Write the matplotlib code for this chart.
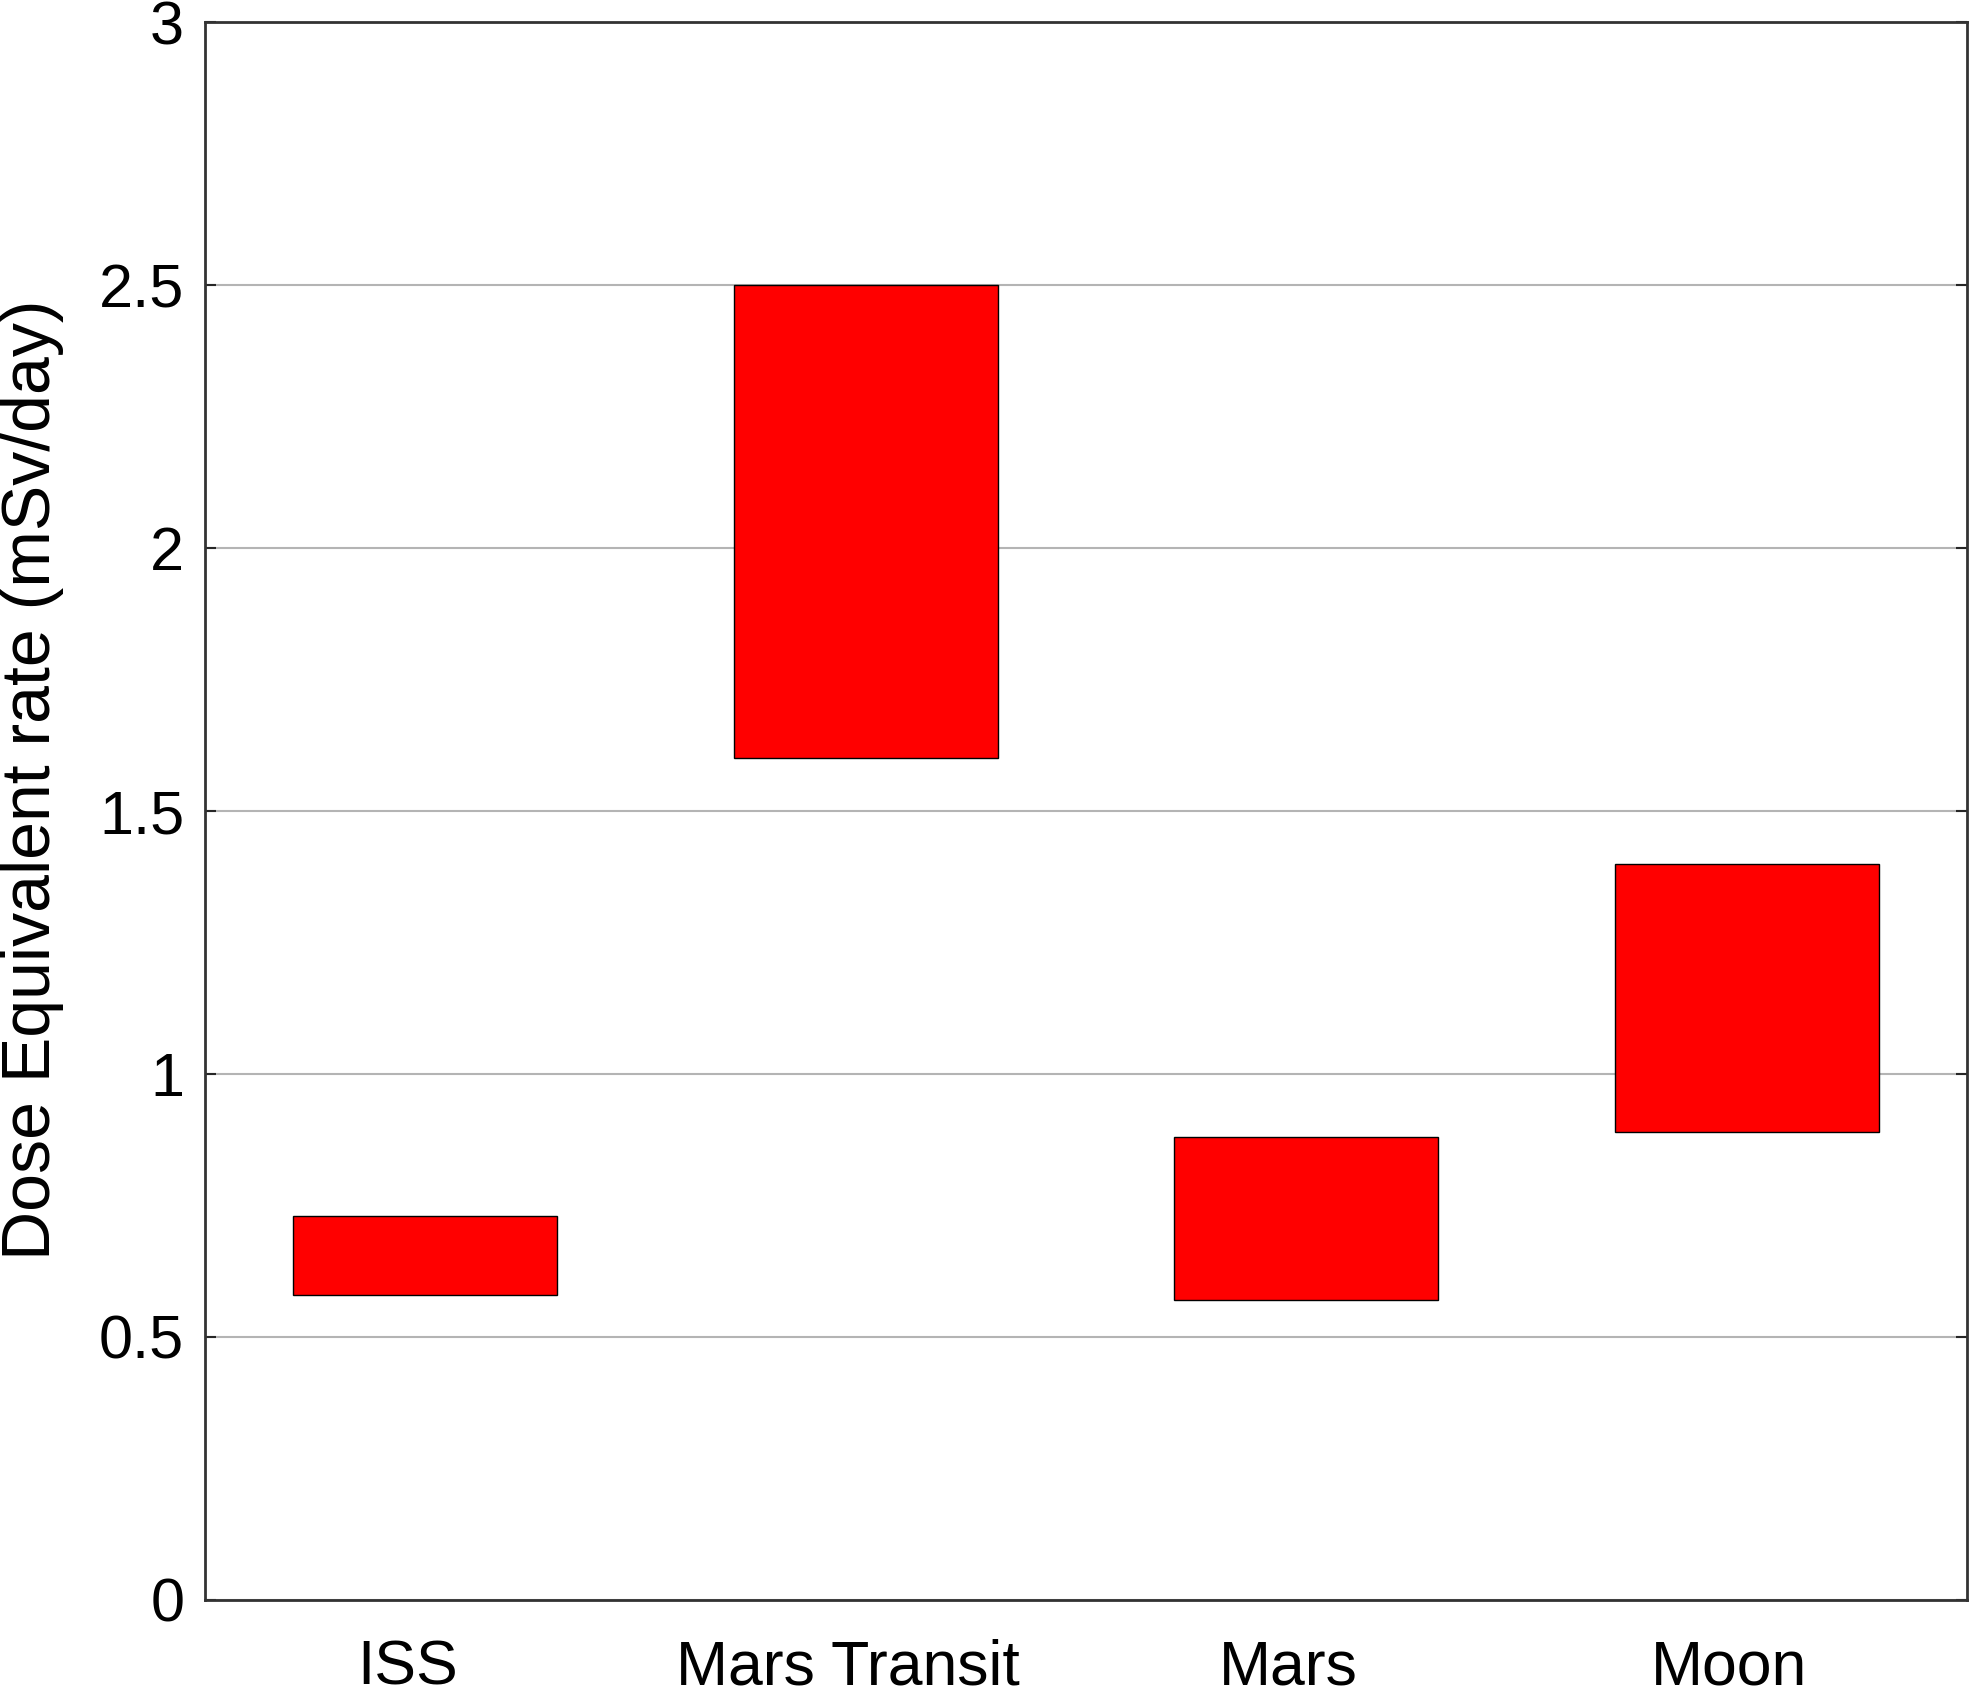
import numpy as np
import matplotlib
matplotlib.use("Agg")
import matplotlib.pyplot as plt
import matplotlib.transforms as mtransforms

plt.rcParams['font.family'] = ['Liberation Sans', 'DejaVu Sans']

sites = ["ISS", "Mars Transit", "Mars", "Moon"]
low = [0.58, 1.60, 0.57, 0.89]
high = [0.73, 2.50, 0.88, 1.40]
yticks = [0, 0.5, 1, 1.5, 2, 2.5, 3]
ytick_labels = ["0", "0.5", "1", "1.5", "2", "2.5", "3"]

x = np.arange(1, len(sites) + 1)
low = np.array(low)
high = np.array(high)

fig = plt.figure(figsize=(19.69, 17.01), dpi=100)
ax = fig.add_axes([0.1041, 0.0594, 0.8949, 0.9276])

ax.bar(x, high - low, bottom=low, width=0.6, color="#ff0000",
       edgecolor="black", linewidth=1.0, zorder=3)

ax.set_xlim(0.5, 4.5)
ax.set_ylim(0, 3)
ax.set_yticks(yticks)
ax.set_yticklabels(ytick_labels)
ax.set_xticks(x)
ax.set_xticklabels(sites)

ax.yaxis.grid(True, color="#b4b4b4", linewidth=1.5, zorder=0)
ax.set_axisbelow(True)

ax.tick_params(axis="y", direction="in", length=8, width=1.5, pad=15,
               labelsize=44, right=True, color="#262626")
ax.tick_params(axis="x", length=0, pad=28, labelsize=45)

# x labels sit a little left of the bar centres in the original
shift = mtransforms.ScaledTranslation(-0.18, 0, fig.dpi_scale_trans)
for lab in ax.get_xticklabels():
    lab.set_transform(lab.get_transform() + shift)

for s in ax.spines.values():
    s.set_linewidth(2.0)
    s.set_color("#333333")

ax.set_ylabel("Dose Equivalent rate (mSv/day)", fontsize=49)
ax.yaxis.set_label_coords(-0.080, 0.52)

fig.savefig("out.png", dpi=100)
